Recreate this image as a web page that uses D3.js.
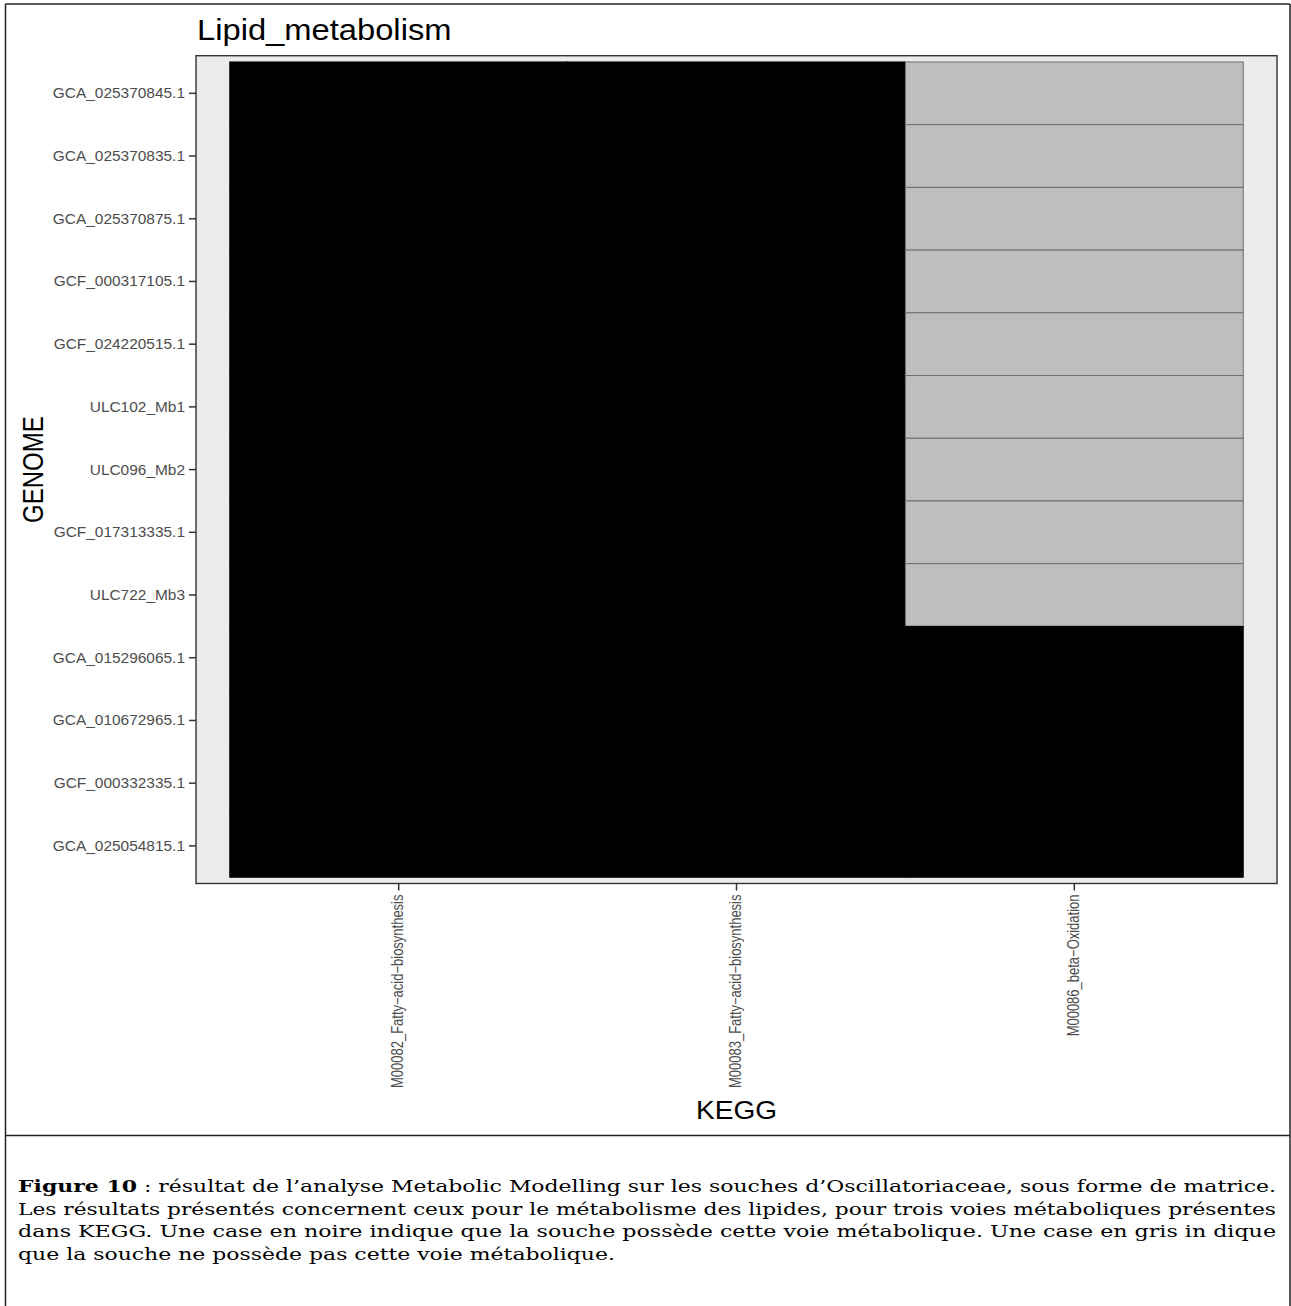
<!DOCTYPE html>
<html>
<head>
<meta charset="utf-8">
<script src="https://cdn.jsdelivr.net/npm/d3@7"></script>
<style>
  html, body { margin: 0; padding: 0; background: #ffffff; }
  svg { display: block; }
</style>
</head>
<body>
<svg id="chart" width="1291" height="1306"></svg>
<script>
// ---------------- data ----------------
const genomes = [
  "GCA_025370845.1", "GCA_025370835.1", "GCA_025370875.1", "GCF_000317105.1",
  "GCF_024220515.1", "ULC102_Mb1", "ULC096_Mb2", "GCF_017313335.1",
  "ULC722_Mb3", "GCA_015296065.1", "GCA_010672965.1", "GCF_000332335.1",
  "GCA_025054815.1"
];
const pathways = [
  "M00082_Fatty\u2212acid\u2212biosynthesis",
  "M00083_Fatty\u2212acid\u2212biosynthesis",
  "M00086_beta\u2212Oxidation"
];
// presence (1) / absence (0) per pathway, in genome order (top to bottom)
const presM00082 = [1,1,1,1,1,1,1,1,1,1,1,1,1];
const presM00083 = [1,1,1,1,1,1,1,1,1,1,1,1,1];
const presM00086 = [0,0,0,0,0,0,0,0,0,1,1,1,1];
const presence = [presM00082, presM00083, presM00086];

const titleText = "Lipid_metabolism";
const xTitle = "KEGG";
const yTitle = "GENOME";
const captionBold = "Figure 10";
const captionLines = [
  " : résultat de l’analyse Metabolic Modelling sur les souches d’Oscillatoriaceae, sous forme de matrice.",
  "Les résultats présentés concernent ceux pour le métabolisme des lipides, pour trois voies métaboliques présentes",
  "dans KEGG. Une case en noire indique que la souche possède cette voie métabolique. Une case en gris in dique",
  "que la souche ne possède pas cette voie métabolique."
];

// ---------------- layout ----------------
const svg = d3.select("#chart");
const W = 1291, H = 1306;
const panel = { left: 196, right: 1277, top: 55.7, bottom: 883.5 };
const SX = 1.08;   // horizontal stretch of the original picture
const RX = 1.2;    // cross stretch for rotated text
const sans = "'Liberation Sans', Arial, Helvetica, sans-serif";

const cells = [];
pathways.forEach((p, i) => genomes.forEach((g, j) => cells.push({ p, g, v: presence[i][j] })));

const x = d3.scaleBand().domain(pathways).range([panel.left, panel.right]).paddingInner(0).paddingOuter(0.1);
const y = d3.scaleBand().domain(genomes).range([panel.top, panel.bottom]).paddingInner(0).paddingOuter(0.1);

// outer frame
const frame = svg.append("g").attr("stroke", "#222").attr("stroke-width", 1.5).attr("fill", "none");
frame.append("line").attr("x1", 5.5).attr("x2", 5.5).attr("y1", 4).attr("y2", H);
frame.append("line").attr("x1", 5.5).attr("x2", 1290).attr("y1", 4).attr("y2", 4);
frame.append("line").attr("x1", 1290).attr("x2", 1290).attr("y1", 4).attr("y2", H);
frame.append("line").attr("x1", 5.5).attr("x2", 1290).attr("y1", 1135.5).attr("y2", 1135.5);

// panel background
svg.append("rect")
  .attr("x", panel.left).attr("y", panel.top)
  .attr("width", panel.right - panel.left).attr("height", panel.bottom - panel.top)
  .attr("fill", "#ebebeb");

// tiles
svg.append("g").selectAll("rect").data(cells).join("rect")
  .attr("x", d => x(d.p)).attr("y", d => y(d.g))
  .attr("width", x.bandwidth()).attr("height", y.bandwidth())
  .attr("fill", d => d.v ? "#000000" : "#bebebe")
  .attr("stroke", d => d.v ? "#000000" : "#6e6e6e")
  .attr("stroke-width", 1);

// panel border
svg.append("rect")
  .attr("x", panel.left).attr("y", panel.top)
  .attr("width", panel.right - panel.left).attr("height", panel.bottom - panel.top)
  .attr("fill", "none").attr("stroke", "#333").attr("stroke-width", 1.4);

// y axis
const gy = svg.append("g").attr("transform", `translate(${panel.left},0)`)
  .call(d3.axisLeft(y).tickSize(7).tickPadding(4));
gy.select(".domain").remove();
gy.selectAll(".tick line").attr("stroke", "#333").attr("stroke-width", 1.5);
gy.selectAll(".tick text")
  .attr("x", null).attr("dy", "0.35em")
  .attr("transform", `translate(-11,0) scale(${SX},1)`)
  .attr("fill", "#4d4d4d").style("font-family", sans).style("font-size", "14.3px");

// x axis
const gx = svg.append("g").attr("transform", `translate(0,${panel.bottom})`)
  .call(d3.axisBottom(x).tickSize(7).tickPadding(4));
gx.select(".domain").remove();
gx.selectAll(".tick line").attr("stroke", "#333").attr("stroke-width", 1.5);
gx.selectAll(".tick text")
  .attr("y", null).attr("x", null).attr("dy", null)
  .attr("text-anchor", "end")
  .attr("transform", `translate(4.5,11) scale(${RX},1) rotate(-90)`)
  .attr("fill", "#4d4d4d").style("font-family", sans).style("font-size", "13px");

// title
svg.append("text")
  .attr("transform", `translate(197,40) scale(${SX},1)`)
  .style("font-family", sans).style("font-size", "30.3px").attr("fill", "#000")
  .text(titleText);

// axis titles
svg.append("text")
  .attr("transform", `translate(${(panel.left + panel.right) / 2},1119) scale(${SX},1)`)
  .attr("text-anchor", "middle")
  .style("font-family", sans).style("font-size", "26px").attr("fill", "#000")
  .text(xTitle);

svg.append("text")
  .attr("transform", `translate(43,${(panel.top + panel.bottom) / 2}) scale(${RX},1) rotate(-90)`)
  .attr("text-anchor", "middle")
  .style("font-family", sans).style("font-size", "24px").attr("fill", "#000")
  .text(yTitle);

// caption
const serif = "'DejaVu Serif', 'Liberation Serif', serif";
const capX = 18, capRight = 1276;
const baselines = [1192, 1214.5, 1237, 1259.5];
const capTexts = [];
captionLines.forEach((line, i) => {
  const t = svg.append("text")
    .attr("x", capX).attr("y", baselines[i])
    .style("font-family", serif).style("font-size", "16px").attr("fill", "#000");
  if (i === 0) {
    t.append("tspan").attr("font-weight", "bold").text(captionBold);
    t.append("tspan").text(line);
  } else {
    t.text(line);
  }
  capTexts.push(t);
});
// justify lines 1-3, keep same glyph stretch on the last line
const facs = [];
capTexts.forEach((t, i) => {
  const nat = t.node().getComputedTextLength();
  if (i < 3) {
    facs.push((capRight - capX) / nat);
    t.attr("textLength", capRight - capX).attr("lengthAdjust", "spacingAndGlyphs");
  }
});
const factor = d3.mean(facs);
const last = capTexts[3];
last.attr("textLength", last.node().getComputedTextLength() * factor).attr("lengthAdjust", "spacingAndGlyphs");
</script>
</body>
</html>
